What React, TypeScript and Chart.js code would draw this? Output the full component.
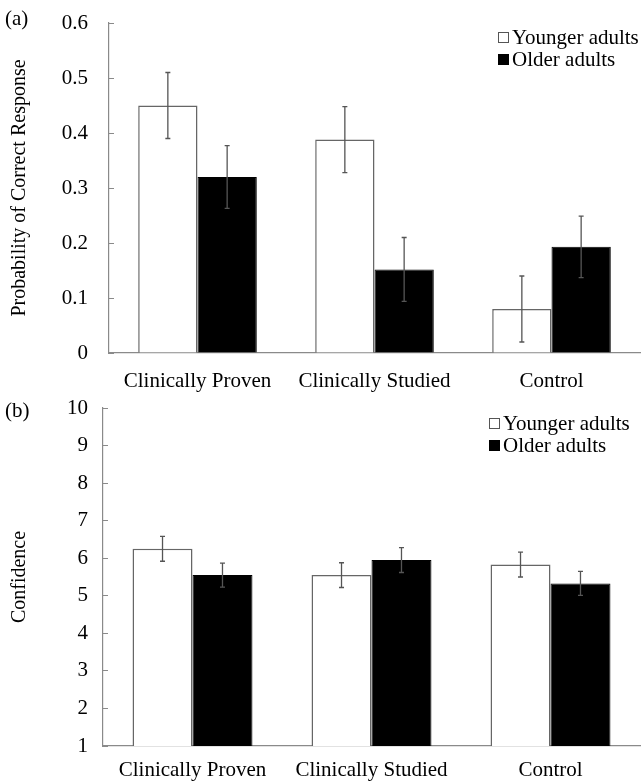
import React, { useEffect, useRef } from "react";
import { Chart, registerables } from "chart.js";

Chart.register(...registerables);

const categories = ["Clinically Proven", "Clinically Studied", "Control"];
const seriesNames = ["Younger adults", "Older adults"];

const accYounger = [0.45, 0.388, 0.08];
const accYoungerErr = [0.06, 0.06, 0.06];
const accOlder = [0.32, 0.152, 0.193];
const accOlderErr = [0.057, 0.058, 0.056];

const confYounger = [6.25, 5.55, 5.83];
const confYoungerErr = [0.33, 0.33, 0.33];
const confOlder = [5.55, 5.95, 5.33];
const confOlderErr = [0.32, 0.33, 0.32];

const SERIF = '"Liberation Serif", "Times New Roman", serif';

const errorBarPlugin = {
  id: "errorBars",
  afterDatasetsDraw(chart: any) {
    const ctx = chart.ctx;
    const yScale = chart.scales.y;
    ctx.save();
    ctx.strokeStyle = "#555";
    ctx.lineWidth = 1.3;
    chart.data.datasets.forEach((ds: any, i: number) => {
      const meta = chart.getDatasetMeta(i);
      meta.data.forEach((el: any, j: number) => {
        const v = ds.data[j];
        const e = ds.errors[j];
        const x = el.x;
        const yt = yScale.getPixelForValue(v + e);
        const yb = yScale.getPixelForValue(v - e);
        ctx.beginPath();
        ctx.moveTo(x, yt);
        ctx.lineTo(x, yb);
        ctx.moveTo(x - 2.5, yt);
        ctx.lineTo(x + 2.5, yt);
        ctx.moveTo(x - 2.5, yb);
        ctx.lineTo(x + 2.5, yb);
        ctx.stroke();
      });
    });
    ctx.restore();
  },
};

type PanelProps = {
  top: number;
  height: number;
  younger: number[];
  youngerErr: number[];
  older: number[];
  olderErr: number[];
  min: number;
  max: number;
  step: number;
  title: string;
  padTop: number;
  yWidth: number;
  xHeight: number;
  tickPad: number;
  xPad: number;
};

function Panel(p: PanelProps) {
  const ref = useRef<HTMLCanvasElement | null>(null);
  useEffect(() => {
    if (!ref.current) return;
    const chart = new Chart(ref.current, {
      type: "bar",
      data: {
        labels: categories,
        datasets: [
          {
            label: seriesNames[0],
            data: p.younger,
            errors: p.youngerErr,
            backgroundColor: "#ffffff",
            borderColor: "#666666",
            borderWidth: 1.5,
            categoryPercentage: 0.67,
            barPercentage: 1,
          } as any,
          {
            label: seriesNames[1],
            data: p.older,
            errors: p.olderErr,
            backgroundColor: "#000000",
            borderColor: "#000000",
            borderWidth: 1,
            categoryPercentage: 0.67,
            barPercentage: 1,
          } as any,
        ],
      },
      options: {
        animation: false,
        responsive: false,
        maintainAspectRatio: false,
        layout: { padding: { top: p.padTop, left: 0, right: 4, bottom: 0 } },
        plugins: {
          legend: { display: false },
          tooltip: { enabled: false },
        },
        scales: {
          x: {
            grid: { display: true, drawOnChartArea: false, drawTicks: false },
            border: { display: true, color: "#8a8a8a", width: 1.2 },
            ticks: {
              color: "#000",
              font: { family: SERIF, size: 21 },
              padding: p.xPad,
              maxRotation: 0,
              autoSkip: false,
            },
            afterFit: (s: any) => {
              s.height = p.xHeight;
            },
          },
          y: {
            min: p.min,
            max: p.max,
            grid: {
              display: true,
              drawOnChartArea: false,
              drawTicks: true,
              tickLength: -5,
              color: "#8a8a8a",
            },
            border: { display: true, color: "#8a8a8a", width: 1.2 },
            ticks: {
              stepSize: p.step,
              color: "#000",
              font: { family: SERIF, size: 21 },
              padding: p.tickPad,
            },
            title: {
              display: true,
              text: p.title,
              color: "#000",
              font: { family: SERIF, size: 20 },
              padding: { top: 8, bottom: 0 },
            },
            afterFit: (s: any) => {
              s.width = p.yWidth;
              s.paddingTop = 0;
              s.paddingBottom = 0;
            },
          },
        },
      } as any,
      plugins: [errorBarPlugin],
    });
    return () => chart.destroy();
  }, []);
  return (
    <canvas
      ref={ref}
      width={644}
      height={p.height}
      style={{ position: "absolute", left: 0, top: p.top, width: 644, height: p.height }}
    />
  );
}

function Legend({ top, left }: { top: number; left: number }) {
  const row: React.CSSProperties = {
    display: "flex",
    alignItems: "center",
    height: 22,
    whiteSpace: "nowrap",
  };
  return (
    <div
      style={{
        position: "absolute",
        top,
        left,
        fontFamily: SERIF,
        fontSize: 21,
        color: "#000",
        lineHeight: "22px",
      }}
    >
      <div style={row}>
        <span
          style={{
            display: "inline-block",
            width: 9,
            height: 9,
            border: "1px solid #555",
            background: "#fff",
            marginRight: 3,
          }}
        />
        {seriesNames[0]}
      </div>
      <div style={row}>
        <span
          style={{
            display: "inline-block",
            width: 11,
            height: 11,
            background: "#000",
            marginRight: 3,
          }}
        />
        {seriesNames[1]}
      </div>
    </div>
  );
}

export default function App() {
  const label: React.CSSProperties = {
    position: "absolute",
    left: 5,
    fontFamily: SERIF,
    fontSize: 21,
    color: "#000",
    lineHeight: "24px",
  };
  return (
    <div
      style={{
        position: "absolute",
        left: 0,
        top: 0,
        width: 644,
        height: 784,
        background: "#fff",
        overflow: "hidden",
      }}
    >
      <Panel
        top={0}
        height={392}
        younger={accYounger}
        youngerErr={accYoungerErr}
        older={accOlder}
        olderErr={accOlderErr}
        min={0}
        max={0.6}
        step={0.1}
        title="Probability of Correct Response"
        padTop={23}
        yWidth={109}
        xHeight={39}
        tickPad={26}
        xPad={16}
      />
      <Panel
        top={392}
        height={392}
        younger={confYounger}
        youngerErr={confYoungerErr}
        older={confOlder}
        olderErr={confOlderErr}
        min={1}
        max={10}
        step={1}
        title="Confidence"
        padTop={16}
        yWidth={103}
        xHeight={38}
        tickPad={20}
        xPad={12}
      />
      <div style={{ ...label, top: 6 }}>(a)</div>
      <div style={{ ...label, top: 398 }}>(b)</div>
      <Legend top={26} left={498} />
      <Legend top={412} left={489} />
    </div>
  );
}
